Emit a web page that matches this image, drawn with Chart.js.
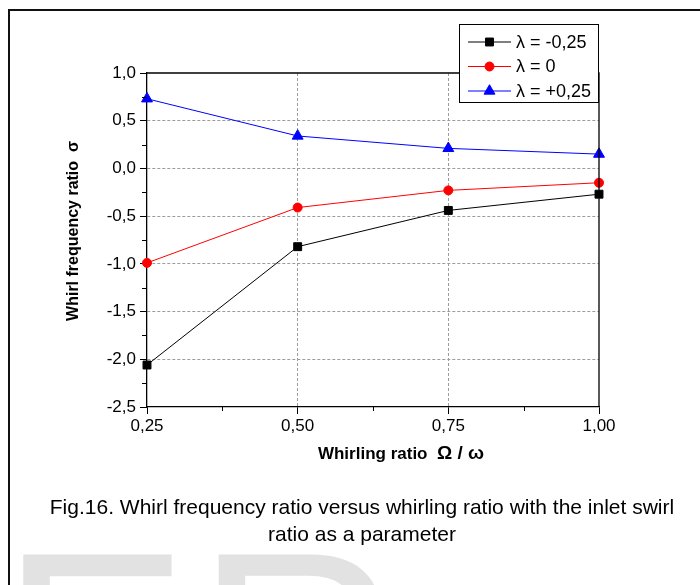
<!DOCTYPE html>
<html lang="en">
<head>
<meta charset="UTF-8">
<title>Whirl frequency ratio vs whirling ratio</title>
<style>
    body {
        margin: 0;
        background: #fff;
        font-family: "Liberation Sans", Arial, sans-serif;
    }
    #page {
        position: relative;
        width: 700px;
        height: 585px;
        overflow: hidden;
    }
    #frame {
        position: absolute;
        left: 8px;
        top: 9px;
        right: -10px;
        bottom: -10px;
        border-left: 2px solid #111;
        border-top: 2px solid #111;
    }
    #mark {
        position: absolute;
        left: 0;
        top: 510px;
        font-size: 284px;
        line-height: 1;
        color: #e2e2e2;
        letter-spacing: 6px;
        white-space: nowrap;
    }
    #chart {
        position: absolute;
        left: 0;
        top: 0;
    }
    #caption {
        position: absolute;
        left: 0;
        width: 724px;
        top: 493px;
        text-align: center;
        font-size: 21px;
        line-height: 27px;
        color: #000;
    }
</style>
</head>
<body>
<div id="page">
    <div id="mark">ER</div>
    <div id="frame"></div>
    <canvas id="chart" width="700" height="585"></canvas>
    <div id="caption">Fig.16. Whirl frequency ratio versus whirling ratio with the inlet swirl<br>ratio as a parameter</div>
</div>
<script src="https://cdn.jsdelivr.net/npm/chart.js"></script>
<script>
    // whirling ratio Omega/omega
    const whirlRatio = [0.25, 0.50, 0.75, 1.00];
    // whirl frequency ratio sigma for each inlet swirl ratio lambda
    const sigmaNeg = [-2.06, -0.82, -0.44, -0.27];
    const sigmaZero = [-0.99, -0.41, -0.23, -0.15];
    const sigmaPos = [0.73, 0.34, 0.21, 0.15];
    const seriesLabels = ['λ = -0,25', 'λ = 0', 'λ = +0,25'];
    const xMinorTicks = [0.375, 0.625, 0.875];
    const yMinorTicks = [-2.25, -1.75, -1.25, -0.75, -0.25, 0.25, 0.75];

    const FONT = '"Liberation Sans", Arial, sans-serif';

    function toPoints(ys) {
        return whirlRatio.map((x, i) => ({x: x, y: ys[i]}));
    }

    // dashed grid inside, nothing on the frame edges
    function gridColor(min, max) {
        return function(ctx) {
            const v = ctx.tick ? ctx.tick.value : null;
            if (v === null || Math.abs(v - min) < 1e-6 || Math.abs(v - max) < 1e-6) return 'rgba(0,0,0,0)';
            return '#9c9c9c';
        };
    }

    const extras = {
        id: 'extras',
        afterDraw(chart) {
            const ctx = chart.ctx;
            const area = chart.chartArea;
            const xs = chart.scales.x;
            const ys = chart.scales.y;
            ctx.save();

            // top and right frame lines
            ctx.strokeStyle = '#000';
            ctx.lineWidth = 1.3;
            ctx.beginPath();
            ctx.moveTo(area.left, area.top);
            ctx.lineTo(area.right, area.top);
            ctx.lineTo(area.right, area.bottom);
            ctx.stroke();

            // minor ticks
            ctx.lineWidth = 1;
            ctx.beginPath();
            xMinorTicks.forEach(v => {
                const px = Math.round(xs.getPixelForValue(v)) + 0.5;
                ctx.moveTo(px, area.bottom);
                ctx.lineTo(px, area.bottom + 4);
            });
            yMinorTicks.forEach(v => {
                const py = Math.round(ys.getPixelForValue(v)) + 0.5;
                ctx.moveTo(area.left, py);
                ctx.lineTo(area.left - 5, py);
            });
            ctx.stroke();

            // axis titles
            ctx.fillStyle = '#000';
            ctx.textBaseline = 'alphabetic';
            ctx.textAlign = 'left';
            const words = 'Whirling ratio  ';
            const greek = 'Ω / ω';
            ctx.font = 'bold 17px ' + FONT;
            const w1 = ctx.measureText(words).width;
            ctx.font = 'bold 19px ' + FONT;
            const w2 = ctx.measureText(greek).width;
            let tx = 401 - (w1 + w2) / 2;
            ctx.font = 'bold 17px ' + FONT;
            ctx.fillText(words, tx, 459);
            ctx.font = 'bold 19px ' + FONT;
            ctx.fillText(greek, tx + w1, 459);

            ctx.save();
            ctx.translate(74, 231);
            ctx.rotate(-Math.PI / 2);
            ctx.font = 'bold 16px ' + FONT;
            ctx.textAlign = 'center';
            ctx.textBaseline = 'middle';
            ctx.fillText('Whirl frequency ratio  σ', 0, 0);
            ctx.restore();

            // legend box
            const bx = 459, by = 24, bw = 139, bh = 78;
            ctx.fillStyle = '#fff';
            ctx.fillRect(bx, by, bw, bh);
            ctx.strokeStyle = '#000';
            ctx.lineWidth = 1;
            ctx.strokeRect(bx + 0.5, by + 0.5, bw, bh);
            ctx.font = '18px ' + FONT;
            ctx.textAlign = 'left';
            ctx.textBaseline = 'middle';
            chart.data.datasets.forEach((ds, i) => {
                const cy = 42 + i * 24.5;
                ctx.strokeStyle = ds.borderColor;
                ctx.lineWidth = 1;
                ctx.beginPath();
                ctx.moveTo(468, cy);
                ctx.lineTo(511, cy);
                ctx.stroke();
                ctx.fillStyle = ds.backgroundColor;
                Chart.helpers.drawPoint(ctx, {
                    pointStyle: ds.pointStyle,
                    radius: ds.pointRadius,
                    rotation: 0,
                    borderWidth: 1
                }, 489.5, cy);
                ctx.fillStyle = '#000';
                ctx.fillText(ds.label, 516, cy + 1);
            });
            ctx.restore();
        }
    };

    new Chart(document.getElementById('chart'), {
        type: 'line',
        data: {
            datasets: [{
                label: seriesLabels[0],
                data: toPoints(sigmaNeg),
                borderColor: '#000000',
                backgroundColor: '#000000',
                pointStyle: 'rect',
                pointRadius: 5.6,
                borderWidth: 1
            }, {
                label: seriesLabels[1],
                data: toPoints(sigmaZero),
                borderColor: '#ff0000',
                backgroundColor: '#ff0000',
                pointStyle: 'circle',
                pointRadius: 4.5,
                borderWidth: 1
            }, {
                label: seriesLabels[2],
                data: toPoints(sigmaPos),
                borderColor: '#0000ff',
                backgroundColor: '#0000ff',
                pointStyle: 'triangle',
                pointRadius: 6.3,
                borderWidth: 1
            }]
        },
        options: {
            responsive: false,
            animation: false,
            clip: false,
            layout: {
                padding: {left: 0, top: 73, right: 101, bottom: 0}
            },
            plugins: {
                legend: {display: false},
                tooltip: {enabled: false}
            },
            scales: {
                x: {
                    type: 'linear',
                    min: 0.25,
                    max: 1.0,
                    afterFit: function(scale) { scale.height = 178; },
                    afterBuildTicks: function(scale) {
                        scale.ticks = whirlRatio.map(v => ({value: v}));
                    },
                    ticks: {
                        color: '#000',
                        font: {family: FONT, size: 17},
                        padding: 2,
                        maxRotation: 0,
                        callback: v => v.toFixed(2).replace('.', ',')
                    },
                    grid: {
                        color: gridColor(0.25, 1.0),
                        tickColor: '#000',
                        tickLength: 7,
                        lineWidth: 1
                    },
                    border: {display: true, color: '#000', width: 1.3, dash: [3, 2]}
                },
                y: {
                    type: 'linear',
                    min: -2.5,
                    max: 1.0,
                    afterFit: function(scale) { scale.width = 147; },
                    ticks: {
                        stepSize: 0.5,
                        color: '#000',
                        font: {family: FONT, size: 17},
                        padding: 4,
                        callback: v => v.toFixed(1).replace('.', ',')
                    },
                    grid: {
                        color: gridColor(-2.5, 1.0),
                        tickColor: '#000',
                        tickLength: 7,
                        lineWidth: 1
                    },
                    border: {display: true, color: '#000', width: 1.3, dash: [3, 2]}
                }
            }
        },
        plugins: [extras]
    });
</script>
</body>
</html>
